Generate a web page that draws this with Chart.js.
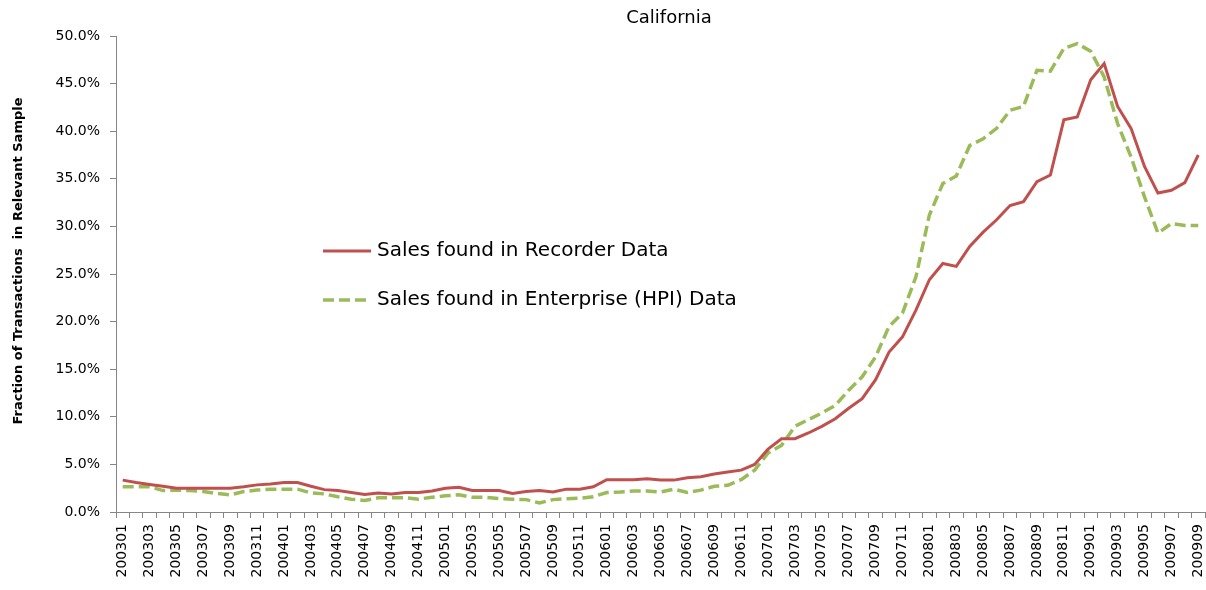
<!DOCTYPE html>
<html>
<head>
<meta charset="utf-8">
<script src="https://cdn.jsdelivr.net/npm/chart.js@4"></script>
<style>
  html, body { margin: 0; padding: 0; background: #ffffff; }
  #c { display: block; }
</style>
</head>
<body>
<canvas id="c" width="1206" height="590"></canvas>
<script>
const chartTitle = 'California';
const yAxisTitle = 'Fraction of Transactions  in Relevant Sample';
const seriesNames = ['Sales found in Recorder Data', 'Sales found in Enterprise (HPI) Data'];

const months = [
  '200301','200302','200303','200304','200305','200306','200307','200308','200309','200310','200311','200312',
  '200401','200402','200403','200404','200405','200406','200407','200408','200409','200410','200411','200412',
  '200501','200502','200503','200504','200505','200506','200507','200508','200509','200510','200511','200512',
  '200601','200602','200603','200604','200605','200606','200607','200608','200609','200610','200611','200612',
  '200701','200702','200703','200704','200705','200706','200707','200708','200709','200710','200711','200712',
  '200801','200802','200803','200804','200805','200806','200807','200808','200809','200810','200811','200812',
  '200901','200902','200903','200904','200905','200906','200907','200908','200909'
];

// Percent of transactions
const recorder = [
  3.35, 3.1, 2.9, 2.7, 2.5, 2.5, 2.5, 2.5, 2.5, 2.65, 2.85, 2.95,
  3.1, 3.1, 2.7, 2.35, 2.25, 2.05, 1.85, 2.0, 1.9, 2.05, 2.05, 2.2,
  2.5, 2.6, 2.25, 2.25, 2.25, 1.95, 2.15, 2.25, 2.1, 2.4, 2.4, 2.65,
  3.4, 3.4, 3.4, 3.5, 3.35, 3.35, 3.6, 3.7, 4.0, 4.2, 4.4, 5.0,
  6.6, 7.7, 7.7, 8.3, 9.0, 9.8, 10.9, 11.9, 13.9, 16.8, 18.4, 21.2,
  24.4, 26.1, 25.8, 27.9, 29.4, 30.7, 32.2, 32.6, 34.7, 35.4, 41.2, 41.5,
  45.4, 47.1, 42.6, 40.3, 36.3, 33.5, 33.8, 34.6, 37.5
];
const enterprise = [
  2.65, 2.65, 2.65, 2.25, 2.3, 2.25, 2.15, 1.95, 1.8, 2.15, 2.3, 2.4,
  2.4, 2.4, 2.0, 1.9, 1.6, 1.35, 1.2, 1.5, 1.5, 1.5, 1.35, 1.55,
  1.7, 1.8, 1.55, 1.55, 1.4, 1.35, 1.3, 0.95, 1.3, 1.4, 1.45, 1.6,
  2.05, 2.1, 2.2, 2.2, 2.1, 2.4, 2.05, 2.3, 2.7, 2.8, 3.4, 4.4,
  6.2, 7.0, 9.0, 9.7, 10.4, 11.2, 12.8, 14.2, 16.3, 19.5, 20.9, 24.7,
  31.2, 34.5, 35.3, 38.5, 39.2, 40.3, 42.2, 42.6, 46.4, 46.3, 48.7, 49.2,
  48.4, 45.7, 40.8, 37.3, 33.1, 29.3, 30.3, 30.1, 30.1
];

const yTicks = [0, 5, 10, 15, 20, 25, 30, 35, 40, 45, 50];

const RED = '#C0504D';
const GREEN = '#9BBB59';
const AXIS = '#868686';
const FONT = '"DejaVu Sans", Verdana, sans-serif';
const GREEN_DASH = [11, 5];

const overlayPlugin = {
  id: 'overlay',
  afterDraw(chart) {
    const ctx = chart.ctx;
    ctx.save();
    // title
    ctx.fillStyle = '#000000';
    ctx.font = '18px ' + FONT;
    ctx.textAlign = 'center';
    ctx.textBaseline = 'middle';
    ctx.fillText(chartTitle, 669, 18);
    // y axis title
    ctx.save();
    ctx.translate(19, 261);
    ctx.rotate(-Math.PI / 2);
    ctx.font = 'bold 13px ' + FONT;
    ctx.textAlign = 'center';
    ctx.textBaseline = 'middle';
    ctx.fillText(yAxisTitle, 0, 0);
    ctx.restore();
    // legend
    const rows = [
      { y: 251, color: RED, width: 3, dash: [] , text: seriesNames[0] },
      { y: 300, color: GREEN, width: 3.5, dash: GREEN_DASH, text: seriesNames[1] }
    ];
    rows.forEach(r => {
      ctx.beginPath();
      ctx.setLineDash(r.dash);
      ctx.strokeStyle = r.color;
      ctx.lineWidth = r.width;
      ctx.moveTo(323, r.y);
      ctx.lineTo(371, r.y);
      ctx.stroke();
      ctx.setLineDash([]);
      ctx.fillStyle = '#000000';
      ctx.font = '20px ' + FONT;
      ctx.textAlign = 'left';
      ctx.textBaseline = 'middle';
      ctx.fillText(r.text, 377, r.y);
    });
    ctx.restore();
  }
};

new Chart(document.getElementById('c'), {
  type: 'line',
  data: {
    labels: months,
    datasets: [
      {
        label: seriesNames[0],
        data: recorder,
        borderColor: RED,
        backgroundColor: RED,
        borderWidth: 3,
        pointRadius: 0,
        tension: 0,
        fill: false
      },
      {
        label: seriesNames[1],
        data: enterprise,
        borderColor: GREEN,
        backgroundColor: GREEN,
        borderWidth: 3.5,
        borderDash: GREEN_DASH,
        pointRadius: 0,
        tension: 0,
        fill: false
      }
    ]
  },
  options: {
    responsive: false,
    devicePixelRatio: 1,
    animation: false,
    layout: { padding: { left: 0, right: 1, top: 36, bottom: 0 } },
    plugins: {
      legend: { display: false },
      title: { display: false },
      tooltip: { enabled: false }
    },
    scales: {
      x: {
        type: 'category',
        offset: true,
        grid: {
          display: true,
          drawOnChartArea: false,
          drawTicks: true,
          tickLength: 6,
          color: AXIS,
          offset: true
        },
        border: { display: true, color: AXIS, width: 1 },
        ticks: {
          autoSkip: false,
          maxRotation: 90,
          minRotation: 90,
          padding: 6,
          color: '#000000',
          font: { family: FONT, size: 14 },
          callback: (v, i) => (i % 2 === 0 ? months[i] : '')
        },
        afterFit: (s) => { s.height = 78; s.paddingLeft = 0; s.paddingRight = 0; }
      },
      y: {
        min: 0,
        max: 50,
        afterBuildTicks: (s) => { s.ticks = yTicks.map(v => ({ value: v })); },
        grid: {
          display: true,
          drawOnChartArea: false,
          drawTicks: true,
          tickLength: 6,
          color: AXIS
        },
        border: { display: true, color: AXIS, width: 1 },
        ticks: {
          padding: 10,
          color: '#000000',
          font: { family: FONT, size: 14 },
          callback: (v) => Number(v).toFixed(1) + '%'
        },
        title: { display: false },
        afterFit: (s) => { s.width = 116; s.paddingTop = 0; s.paddingBottom = 0; }
      }
    }
  },
  plugins: [overlayPlugin]
});
</script>
</body>
</html>
